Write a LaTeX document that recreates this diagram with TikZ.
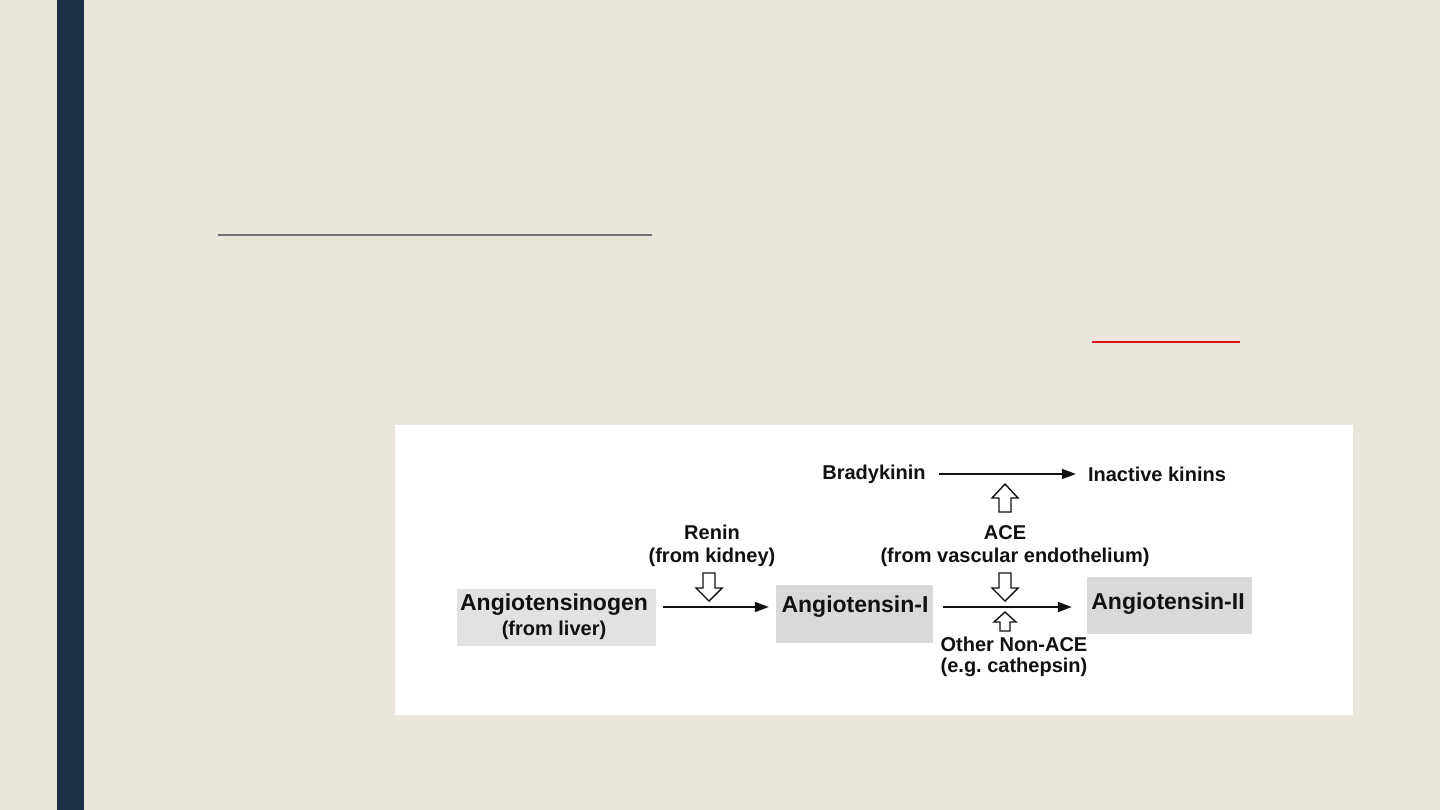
\documentclass[tikz,border=0pt]{standalone}
\usepackage{fontspec}
\setmainfont{Liberation Sans}
\usetikzlibrary{arrows.meta}
\frenchspacing
\definecolor{bg}{HTML}{EBE6DC}
\definecolor{bar}{HTML}{1E3045}
\definecolor{boxa}{HTML}{E2E2E2}
\definecolor{boxb}{HTML}{D9D9D9}
\definecolor{ink}{HTML}{111111}
\definecolor{rule}{HTML}{6E7278}
\definecolor{redrule}{HTML}{D81414}
\tikzset{
  big/.style={font=\fontsize{23}{27}\selectfont\bfseries, text=ink, inner sep=0pt},
  small/.style={font=\fontsize{20}{25}\selectfont\bfseries, text=ink, inner sep=0pt, align=center},
  greybox/.style={fill=boxb, draw=none, inner sep=0pt},
  conn/.style={draw=ink, line width=1.8pt, -{Triangle[length=14pt,width=10pt]}},
  hollow/.style={draw=ink, line width=1.4pt, fill=white, line join=miter},
  hdown/.pic={\draw[hollow] (-6,0) -- (6,0) -- (6,15) -- (13,15) -- (0,28) -- (-13,15) -- (-6,15) -- cycle;},
  hup/.pic={\draw[hollow] (-6,0) -- (6,0) -- (6,-14) -- (13,-14) -- (0,-28) -- (-13,-14) -- (-6,-14) -- cycle;},
  hupsmall/.pic={\draw[hollow] (-5,0) -- (5,0) -- (5,-9) -- (11,-9) -- (0,-19) -- (-11,-9) -- (-5,-9) -- cycle;}
}
\begin{document}
\begin{tikzpicture}[x=1pt,y=-1pt]
\fill[bg] (0,0) rectangle (1440,810);
\useasboundingbox (0,0) rectangle (1440,810);
\fill[bar] (57,0) rectangle (84,810);
\draw[rule, line width=1.6pt] (218,235) -- (652,235);
\draw[redrule, line width=2.6pt] (1092,342) -- (1240,342);
% picture panel
\fill[white!99!bg] (395,425) rectangle (1353,715);
% boxes
\node[greybox, fill=boxa, minimum width=199pt, minimum height=57pt] (agbox) at (556.5,617.5) {};
\node[greybox, minimum width=157pt, minimum height=58pt] (a1box) at (854.5,614) {};
\node[greybox, minimum width=165pt, minimum height=57pt] (a2box) at (1169.5,605.5) {};
% labels
\node[big] (ag) at (554,605) {Angiotensinogen};
\node[small] (agsrc) at (554,630) {(from liver)};
\node[big] (a1) at (855,607) {Angiotensin-I};
\node[big] (a2) at (1168,604) {Angiotensin-II};
\node[small] (renin) at (712,532) {Renin};
\node[small] (reninsrc) at (712,557) {(from kidney)};
\node[small] (brady) at (874,474) {Bradykinin};
\node[small] (inact) at (1157,474) {Inactive kinins};
\node[small] (ace) at (1005,533) {ACE};
\node[small] (acesrc) at (1015,557) {(from vascular endothelium)};
\node[small] (nonace) at (1014,644) {Other Non-ACE};
\node[small] (nonacesrc) at (1014,667) {(e.g. cathepsin)};
% connectors
\coordinate (r1) at (663,607);
\coordinate (r2) at (943,607);
\draw[conn] ([xshift=7pt]agbox.east |- r1) -- ([xshift=-7pt]a1box.west |- r1);
\draw[conn] ([xshift=10pt]a1box.east |- r2) -- ([xshift=-15pt]a2box.west |- r2);
\draw[conn] ([xshift=13pt]brady.east) -- ([xshift=-12pt]inact.west);
% hollow arrows
\pic at (709,573) {hdown};
\pic at (1005,512) {hup};
\pic at (1005,573) {hdown};
\pic at (1005,631) {hupsmall};
\end{tikzpicture}
\end{document}
